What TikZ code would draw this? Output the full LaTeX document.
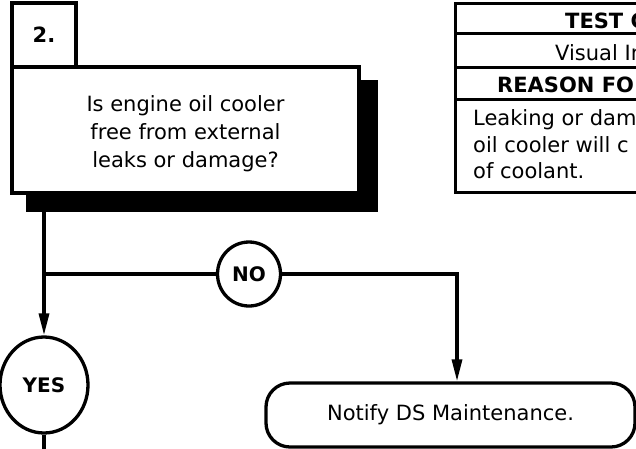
\documentclass[tikz,border=0pt]{standalone}
\usepackage{fontspec}
\setmainfont{DejaVu Sans}
\usetikzlibrary{arrows.meta}
\usetikzlibrary{shapes.geometric}

\begin{document}
\begin{tikzpicture}[
    x=1pt, y=-1pt,
    box/.style={draw, line width=3.3pt, fill=white, inner sep=0pt},
    shadow/.style={fill=black, inner sep=0pt},
    answer/.style={draw, ellipse, line width=3.3pt, fill=white, inner sep=0pt,
        font=\fontsize{20}{24}\selectfont\bfseries},
    line/.style={line width=3.3pt},
    flow/.style={line width=3.3pt, -{Triangle[length=22pt, width=10pt]}},
    txt/.style={font=\fontsize{21}{28}\selectfont},
    cell/.style={inner sep=0pt, anchor=base west, font=\fontsize{21}{26}\selectfont},
    tbl/.style={line width=3pt},
]
    \clip (0, 0) rectangle (636, 448);

    %% step 2: question box with its drop shadow and number tab
    \node[shadow, minimum width=352pt, minimum height=132pt] (qs) at (202, 146) {};
    \node[box, minimum width=347pt, minimum height=126pt,
        label={[txt, align=center, yshift=-4pt]center:{Is engine oil cooler\\free from external\\leaks or damage?}}]
        (q) at (185.5, 130) {};
    \node[box, minimum width=64pt, minimum height=64pt,
        font=\fontsize{21}{26}\selectfont\bfseries] (num) at (44, 35) {2.};

    %% test table, cut off at the right edge
    \draw[tbl] (455, 3) rectangle (660, 192);
    \foreach \r in {33, 67, 99}{
        \draw[tbl] (455, \r) -- (660, \r);
    }
    \node[cell, font=\fontsize{21}{26}\selectfont\bfseries] (cond) at (565, 28) {TEST C};
    \node[cell] (how) at (555, 60) {Visual In};
    \node[cell, font=\fontsize{21}{26}\selectfont\bfseries] (reason) at (497, 92) {REASON FO};
    \foreach \ln/\y [count=\i] in {Leaking or dam/125, oil cooler will c/152, of coolant./178}
        \node[cell] (why\i) at (473, \y) {\ln};

    %% answers
    \node[answer, minimum width=88pt, minimum height=96pt] (yes) at (44, 385) {YES};
    \node[answer, minimum width=63pt, minimum height=64pt] (no) at (249, 274) {NO};
    \node[box, rounded corners=24pt, txt, minimum width=369pt, minimum height=64pt]
        (note) at (450.5, 415) {Notify DS Maintenance.};

    \coordinate (turn) at (457, 274);
    \coordinate (yesout) at (44, 460);

    \draw[flow] (yes |- qs.south) -- (yes);
    \draw[line] (yes |- no) -- (no);
    \draw[flow] (no) -- (turn) -- (turn |- note.north);
    \draw[line] (yes) -- (yesout);
\end{tikzpicture}
\end{document}
